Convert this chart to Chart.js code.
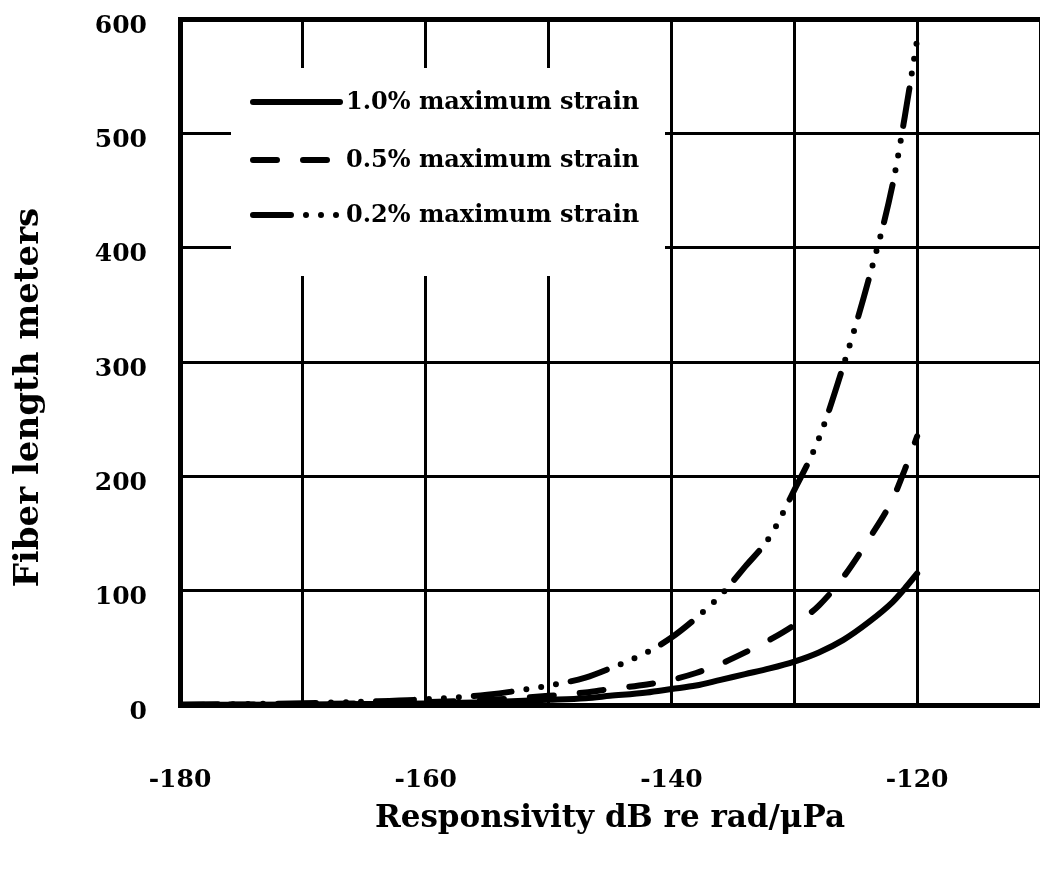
<!DOCTYPE html>
<html>
<head>
<meta charset="utf-8">
<title>Fiber length vs responsivity</title>
<script src="https://cdn.jsdelivr.net/npm/chart.js@4.4.1/dist/chart.umd.min.js"></script>
<style>
  html, body { margin: 0; padding: 0; background: #ffffff; }
  #wrap { width: 1040px; height: 878px; position: relative; }
</style>
</head>
<body>
<div id="wrap"><canvas id="myChart"></canvas></div>
<script>
// Responsivity (dB re rad/uPa) sample points, shared by all three curves
const responsivity = [-180, -175, -170, -165, -160, -155, -150, -147, -145, -142, -140,
     -138, -136, -134, -132, -130, -128, -126, -124, -122, -121, -120];

// Fiber length (meters)
const strain10 = [0.1, 0.2, 0.4, 0.8, 1.4, 2.5, 4.5, 6, 8, 11, 14,
     17, 22, 27, 32, 38, 46, 57, 72, 90, 102, 115];
const strain05 = [0.2, 0.4, 0.8, 1.5, 2.5, 4.5, 8, 11, 14, 18, 22,
     28, 36, 46, 57, 70, 87, 112, 144, 180, 206, 235];
const strain02 = [0.3, 0.8, 1.5, 3, 5, 9, 17, 24, 32, 46, 59,
     76, 96, 121, 147, 188, 233, 297, 370, 455, 515, 582];

const seriesLabels = ['1.0% maximum strain', '0.5% maximum strain', '0.2% maximum strain'];

// tick values
const xTicks = [-180, -160, -140, -120];
const yTicks = [0, 100, 200, 300, 400, 500, 600];

const serif = "'DejaVu Serif', 'Liberation Serif', serif";

function toPoints(values) {
     return responsivity.map((r, i) => ({ x: r, y: values[i] }));
}

// white legend box drawn over the grid (like the original figure)
const legendBoxPlugin = {
     id: 'legendBox',
     beforeDatasetsDraw(chart) {
          const ctx = chart.ctx;
          ctx.save();
          ctx.fillStyle = '#ffffff';
          ctx.fillRect(231, 68, 434, 208);

          const rows = [102, 160, 215];
          chart.data.datasets.forEach((ds, i) => {
               const y = rows[i];
               ctx.beginPath();
               ctx.setLineDash(ds.borderDash || []);
               ctx.lineWidth = ds.borderWidth;
               ctx.lineCap = 'round';
               ctx.strokeStyle = '#000';
               ctx.moveTo(253, y);
               ctx.lineTo(i === 0 ? 340 : 337, y);
               ctx.stroke();

               ctx.setLineDash([]);
               ctx.fillStyle = '#000';
               ctx.font = "bold 24px " + serif;
               ctx.textBaseline = 'middle';
               ctx.textAlign = 'left';
               ctx.fillText(ds.label, 346, y + 1);
          });
          ctx.restore();
     }
};

const ctx = document.getElementById('myChart').getContext('2d');

const config = {
     type: 'line',
     data: {
          datasets: [
               {
                    label: seriesLabels[0],
                    data: toPoints(strain10),
                    borderColor: '#000',
                    borderWidth: 6,
                    borderDash: [],
                    borderCapStyle: 'round',
                    pointRadius: 0,
                    cubicInterpolationMode: 'monotone'
               },
               {
                    label: seriesLabels[1],
                    data: toPoints(strain05),
                    borderColor: '#000',
                    borderWidth: 6,
                    borderDash: [24, 26],
                    borderCapStyle: 'round',
                    pointRadius: 0,
                    cubicInterpolationMode: 'monotone'
               },
               {
                    label: seriesLabels[2],
                    data: toPoints(strain02),
                    borderColor: '#000',
                    borderWidth: 6,
                    borderDash: [38, 15, 0, 15, 0, 15, 0, 15],
                    borderCapStyle: 'round',
                    pointRadius: 0,
                    cubicInterpolationMode: 'monotone'
               }
          ]
     },
     options: {
          responsive: true,
          maintainAspectRatio: false,
          animation: false,
          events: [],
          layout: {
               padding: { top: 19, right: 0, bottom: 20, left: 0 }
          },
          plugins: {
               legend: { display: false },
               tooltip: { enabled: false }
          },
          scales: {
               x: {
                    type: 'linear',
                    min: -180,
                    max: -110,
                    afterBuildTicks: axis => {
                         axis.ticks = [];
                         for (let v = -180; v <= -110; v += 10) axis.ticks.push({ value: v });
                    },
                    // fix the axis box so the big tick padding is not counted twice
                    afterFit: axis => {
                         axis.height = 153;
                         axis.paddingLeft = 0;
                         axis.paddingRight = 0;
                    },
                    ticks: {
                         autoSkip: false,
                         maxRotation: 0,
                         padding: 60,
                         color: '#000',
                         font: { family: serif, size: 25, weight: 'bold' },
                         callback: v => xTicks.includes(v) ? String(v) : ''
                    },
                    grid: {
                         color: '#000',
                         lineWidth: 3,
                         drawTicks: false
                    },
                    border: { display: true, color: '#000', width: 5 },
                    title: {
                         display: true,
                         text: 'Responsivity dB re rad/\u03bcPa',
                         color: '#000',
                         font: { family: serif, size: 31, weight: 'bold' },
                         padding: { top: 3, bottom: 20 }
                    }
               },
               y: {
                    type: 'linear',
                    min: 0,
                    max: 600,
                    afterBuildTicks: axis => {
                         axis.ticks = yTicks.map(v => ({ value: v }));
                    },
                    afterFit: axis => {
                         axis.width = 180;
                         axis.paddingTop = 0;
                         axis.paddingBottom = 0;
                    },
                    ticks: {
                         padding: 33,
                         labelOffset: 7,
                         color: '#000',
                         font: { family: serif, size: 25, weight: 'bold' }
                    },
                    grid: {
                         color: '#000',
                         lineWidth: c => (c.tick && c.tick.value === 600) ? 5 : 3,
                         drawTicks: false
                    },
                    border: { display: true, color: '#000', width: 5 },
                    title: {
                         display: true,
                         // trailing spaces push the text a little below the axis centre, as in the original
                         text: 'Fiber length meters      ',
                         color: '#000',
                         font: { family: serif, size: 34, weight: 'bold' },
                         padding: { top: 9, bottom: 44 }
                    }
               }
          }
     },
     plugins: [legendBoxPlugin]
};

const chart = new Chart(ctx, config);
</script>
</body>
</html>
